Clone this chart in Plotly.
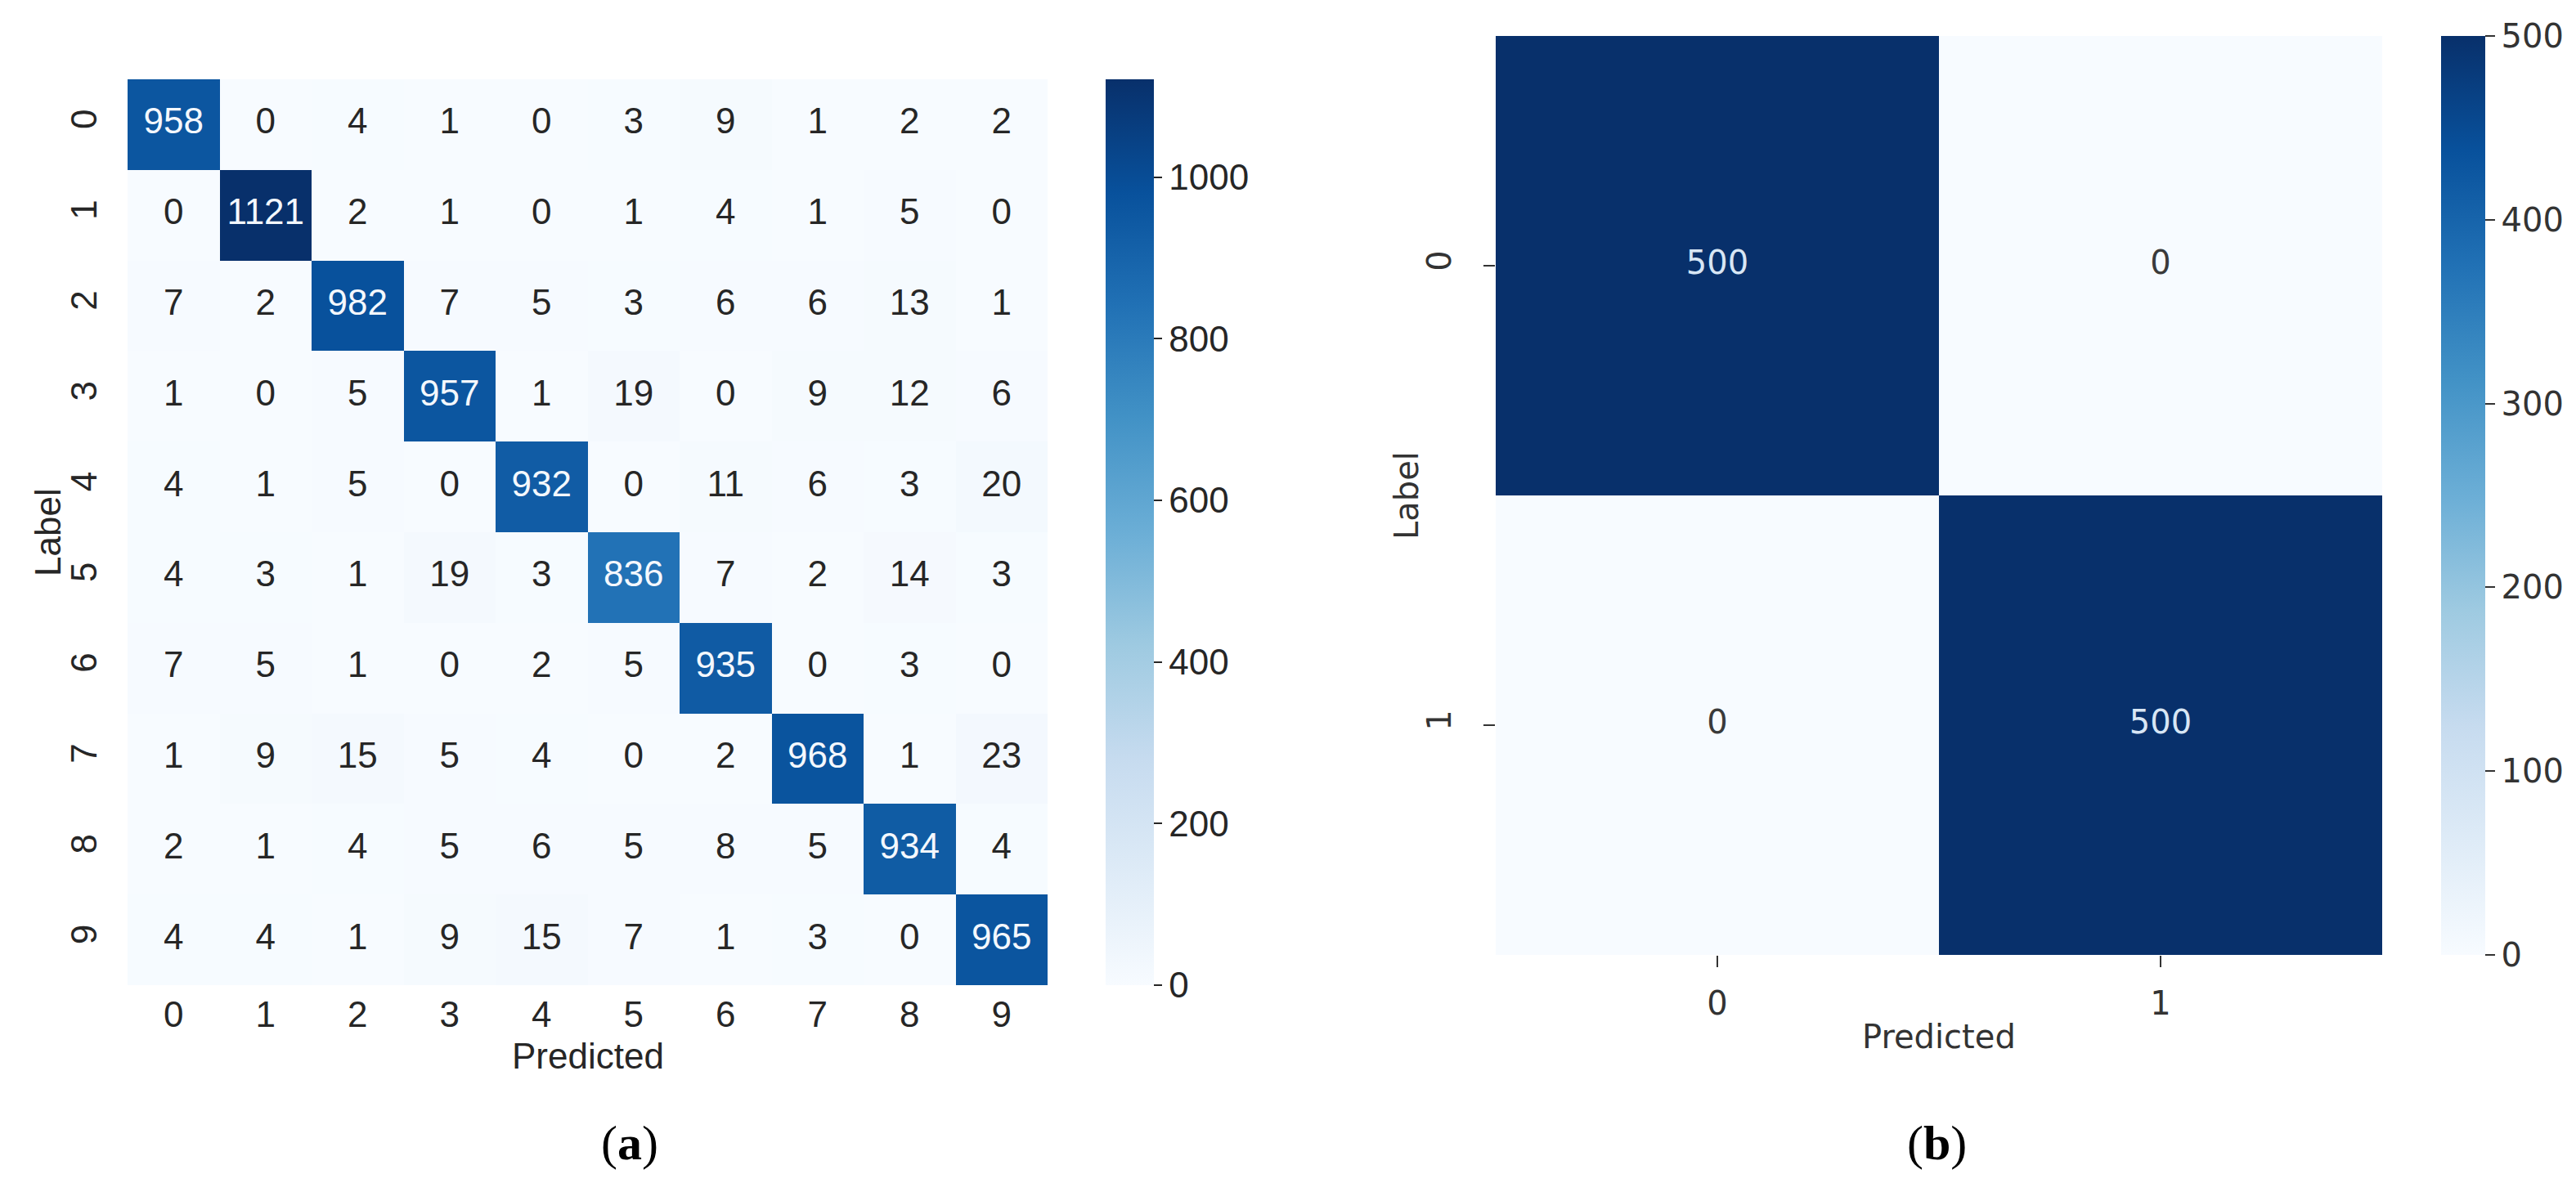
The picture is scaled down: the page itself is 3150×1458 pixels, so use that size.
import plotly.graph_objects as go

# confusion matrix (a): 10 digits
digit_labels = ['0', '1', '2', '3', '4', '5', '6', '7', '8', '9']
cm_digits = [
    [958, 0, 4, 1, 0, 3, 9, 1, 2, 2],
    [0, 1121, 2, 1, 0, 1, 4, 1, 5, 0],
    [7, 2, 982, 7, 5, 3, 6, 6, 13, 1],
    [1, 0, 5, 957, 1, 19, 0, 9, 12, 6],
    [4, 1, 5, 0, 932, 0, 11, 6, 3, 20],
    [4, 3, 1, 19, 3, 836, 7, 2, 14, 3],
    [7, 5, 1, 0, 2, 5, 935, 0, 3, 0],
    [1, 9, 15, 5, 4, 0, 2, 968, 1, 23],
    [2, 1, 4, 5, 6, 5, 8, 5, 934, 4],
    [4, 4, 1, 9, 15, 7, 1, 3, 0, 965],
]
cbar_ticks_digits = [0, 200, 400, 600, 800, 1000]

# confusion matrix (b): binary
binary_labels = ['0', '1']
cm_binary = [
    [500, 0],
    [0, 500],
]
cbar_ticks_binary = [0, 100, 200, 300, 400, 500]

blues = [[0.0, 'rgb(247,251,255)'], [0.125, 'rgb(222,235,247)'], [0.25, 'rgb(198,219,239)'],
         [0.375, 'rgb(158,202,225)'], [0.5, 'rgb(107,174,214)'], [0.625, 'rgb(66,146,198)'],
         [0.75, 'rgb(33,113,181)'], [0.875, 'rgb(8,81,156)'], [1.0, 'rgb(8,48,107)']]

W, H = 3150, 1458
def fx(p): return p / W
def fy(p): return 1 - p / H

# pixel boxes of the two heatmaps
A = dict(l=148, r=1273, t=89, b=1197)
B = dict(l=1821, r=2905, t=36, b=1160)

ARIAL = 'Liberation Sans, Arial'
DEJAVU = 'DejaVu Sans'
DARK = '#262626'
GREY = '#333333'
FA, FB = 44, 40   # font sizes of the two panels

fig = go.Figure()

# ---- (a)
max_a = max(max(r) for r in cm_digits)
fig.add_trace(go.Heatmap(z=cm_digits, x=digit_labels, y=digit_labels, coloraxis='coloraxis',
                         xaxis='x', yaxis='y', hoverinfo='skip'))
tx, ty, tt, tc = [], [], [], []
for i, row in enumerate(cm_digits):
    for j, v in enumerate(row):
        tx.append(digit_labels[j]); ty.append(digit_labels[i]); tt.append(str(v))
        tc.append('#f4f8fd' if v > max_a * 0.5 else DARK)
fig.add_trace(go.Scatter(x=tx, y=ty, text=tt, mode='text', xaxis='x', yaxis='y',
                         textfont=dict(family=ARIAL, size=FA, color=tc), hoverinfo='skip', showlegend=False))

# ---- (b)
max_b = max(max(r) for r in cm_binary)
fig.add_trace(go.Heatmap(z=cm_binary, x=binary_labels, y=binary_labels, coloraxis='coloraxis2',
                         xaxis='x2', yaxis='y2', hoverinfo='skip'))
tx, ty, tt, tc = [], [], [], []
for i, row in enumerate(cm_binary):
    for j, v in enumerate(row):
        tx.append(binary_labels[j]); ty.append(binary_labels[i]); tt.append(str(v))
        tc.append('#d8e6f5' if v > max_b * 0.5 else '#3a3a3a')
fig.add_trace(go.Scatter(x=tx, y=ty, text=tt, mode='text', xaxis='x2', yaxis='y2',
                         textfont=dict(family=DEJAVU, size=FB, color=tc), hoverinfo='skip', showlegend=False))

fig.update_layout(
    width=W, height=H, margin=dict(l=0, r=0, t=0, b=0),
    paper_bgcolor='white', plot_bgcolor='white', showlegend=False,
    xaxis=dict(domain=[fx(A['l']), fx(A['r'])], anchor='y', range=[-0.5, 9.5], showgrid=False, zeroline=False,
               showline=False, ticks='', tickfont=dict(family=ARIAL, size=FA, color=DARK), ticklabelstandoff=6),
    yaxis=dict(domain=[fy(A['b']), fy(A['t'])], anchor='x', range=[9.5, -0.5], showgrid=False, zeroline=False,
               showline=False, ticks='', tickangle=-90, tickfont=dict(family=ARIAL, size=FA, color=DARK),
               ticklabelstandoff=28),
    xaxis2=dict(domain=[fx(B['l']), fx(B['r'])], anchor='y2', range=[-0.5, 1.5], showgrid=False, zeroline=False,
                showline=False, ticks='outside', ticklen=14, tickwidth=2, tickcolor=GREY,
                tickfont=dict(family=DEJAVU, size=FB, color=GREY), ticklabelstandoff=10),
    yaxis2=dict(domain=[fy(B['b']), fy(B['t'])], anchor='x2', range=[1.5, -0.5], showgrid=False, zeroline=False,
                showline=False, ticks='outside', ticklen=14, tickwidth=2, tickcolor=GREY, tickangle=-90,
                tickfont=dict(family=DEJAVU, size=FB, color=GREY), ticklabelstandoff=24),
    coloraxis=dict(colorscale=blues, cmin=0, cmax=max_a,
                   colorbar=dict(x=fx(1344), xanchor='left', y=fy(A['b']), yanchor='bottom',
                                 len=(A['b'] - A['t']) / H, thickness=59, outlinewidth=0, xpad=0, ypad=0,
                                 tickvals=cbar_ticks_digits, ticks='outside', ticklen=10, tickwidth=2,
                                 tickcolor=DARK, tickfont=dict(family=ARIAL, size=FA, color=DARK))),
    coloraxis2=dict(colorscale=blues, cmin=0, cmax=max_b,
                    colorbar=dict(x=fx(2977), xanchor='left', y=fy(B['b']), yanchor='bottom',
                                  len=(B['b'] - B['t']) / H, thickness=54, outlinewidth=0, xpad=0, ypad=0,
                                  tickvals=cbar_ticks_binary, ticks='outside', ticklen=12, tickwidth=2,
                                  tickcolor=GREY, tickfont=dict(family=DEJAVU, size=FB, color=GREY))),
)

notes = [
    dict(text='Predicted', x=fx((A['l'] + A['r']) / 2), y=fy(1283), font=dict(family=ARIAL, size=FA, color=DARK)),
    dict(text='Label', x=fx(50), y=fy((A['t'] + A['b']) / 2), textangle=-90, font=dict(family=ARIAL, size=FA, color=DARK)),
    dict(text='Predicted', x=fx((B['l'] + B['r']) / 2), y=fy(1260), font=dict(family=DEJAVU, size=FB, color=GREY)),
    dict(text='Label', x=fx(1712), y=fy((B['t'] + B['b']) / 2), textangle=-90, font=dict(family=DEJAVU, size=FB, color=GREY)),
    dict(text='(<b>a</b>)', x=fx(762), y=fy(1390), font=dict(family='Liberation Serif', size=60, color='black')),
    dict(text='(<b>b</b>)', x=fx(2360), y=fy(1390), font=dict(family='Liberation Serif', size=60, color='black')),
]
for n in notes:
    fig.add_annotation(xref='paper', yref='paper', showarrow=False, xanchor='center', yanchor='middle', **n)

fig.write_html("out.html")
